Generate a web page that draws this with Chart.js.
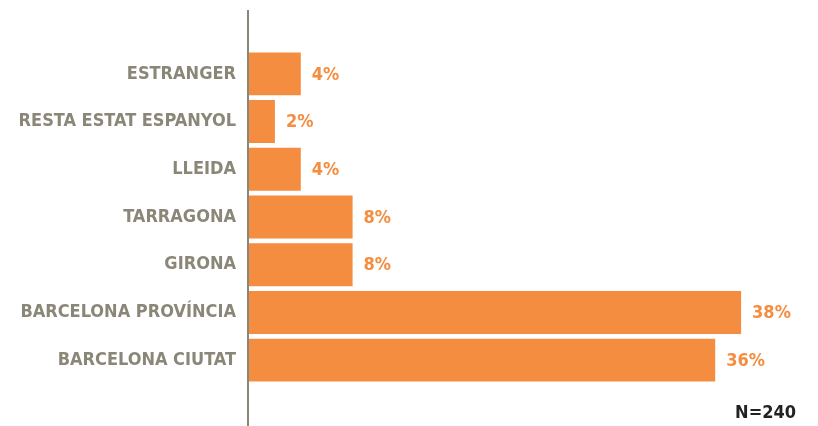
<!DOCTYPE html>
<html lang="ca">
<head>
    <meta charset="UTF-8">
    <title>Procedència</title>
    <script src="https://cdn.jsdelivr.net/npm/chart.js"></script>
    <style>
        body { margin: 0; background: #fff; }
        .wrap { width: 818px; height: 426px; position: relative; }
    </style>
</head>
<body>
    <div class="wrap"><canvas id="chart"></canvas></div>
    <script>
        const categories = ['ESTRANGER', 'RESTA ESTAT ESPANYOL', 'LLEIDA', 'TARRAGONA', 'GIRONA', 'BARCELONA PROVÍNCIA', 'BARCELONA CIUTAT'];
        const values = [4, 2, 4, 8, 8, 38, 36];
        const sampleNote = 'N=240';

        const orange = '#f58d40';
        const grey = '#8b8778';
        const font = "'Liberation Sans Narrow', 'DejaVu Sans Condensed', 'DejaVu Sans', sans-serif";

        // value labels at bar ends, axis line and N note
        const extras = {
            id: 'extras',
            afterDatasetsDraw(chart) {
                const ctx = chart.ctx;
                const meta = chart.getDatasetMeta(0);
                ctx.save();
                ctx.font = 'bold 18px ' + font;
                ctx.fillStyle = orange;
                ctx.textBaseline = 'middle';
                ctx.textAlign = 'left';
                meta.data.forEach((bar, i) => {
                    ctx.fillText(values[i] + '%', bar.x + 11, bar.y + 1);
                });
                const x0 = chart.scales.x.getPixelForValue(0);
                ctx.strokeStyle = grey;
                ctx.lineWidth = 2;
                ctx.beginPath();
                ctx.moveTo(x0 - 1, 10);
                ctx.lineTo(x0 - 1, 426);
                ctx.stroke();
                ctx.fillStyle = '#222';
                ctx.textAlign = 'right';
                ctx.fillText(sampleNote, 796, 413);
                ctx.restore();
            }
        };

        new Chart(document.getElementById('chart'), {
            type: 'bar',
            data: {
                labels: categories,
                datasets: [{
                    data: values,
                    backgroundColor: orange,
                    borderWidth: 0,
                    barPercentage: 0.9,
                    categoryPercentage: 1
                }]
            },
            options: {
                indexAxis: 'y',
                responsive: true,
                maintainAspectRatio: false,
                animation: false,
                layout: { padding: { top: 50, bottom: 42, left: 0, right: 51 } },
                plugins: { legend: { display: false }, tooltip: { enabled: false } },
                scales: {
                    x: { display: false, min: 0, max: 40 },
                    y: {
                        grid: { display: false },
                        border: { display: false },
                        afterFit: (scale) => { scale.width = 249; },
                        ticks: {
                            padding: 5,
                            color: grey,
                            font: { family: font, size: 18, weight: 'bold' }
                        }
                    }
                }
            },
            plugins: [extras]
        });
    </script>
</body>
</html>
